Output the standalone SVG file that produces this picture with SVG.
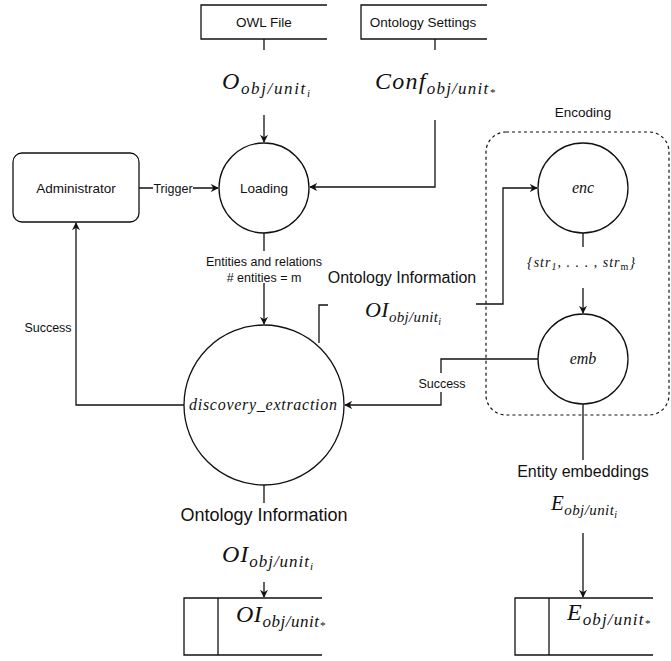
<svg xmlns="http://www.w3.org/2000/svg" width="671" height="661" viewBox="0 0 671 661">
  <style>
    .ln { fill: none; stroke: #111; stroke-width: 1.3; }
    .shape { fill: #fff; stroke: #111; stroke-width: 1.3; }
    .txt { font-family: "Liberation Sans", Arial, sans-serif; fill: #111; text-anchor: middle; }
    .math { font-family: "Liberation Serif", "Times New Roman", serif; font-style: italic; fill: #111; }
    .bg { fill: #fff; stroke: none; }
  </style>
  <defs>
    <marker id="arrow" viewBox="0 0 10 10" refX="9" refY="5" markerWidth="8" markerHeight="8" markerUnits="userSpaceOnUse" orient="auto">
      <path d="M0,0 L10,5 L0,10 L3,5 z" fill="#111"/>
    </marker>
  </defs>
  <rect width="671" height="661" fill="#fff"/>

  <!-- flows between the processes, sources and stores -->
  <g id="connectors">
    <!-- OWL file to loading -->
    <path class="ln" d="M264,39 V50"/>
    <path class="ln" d="M264,115 V142" marker-end="url(#arrow)"/>
    <!-- ontology settings to loading -->
    <path class="ln" d="M435,39 V50"/>
    <path class="ln" d="M435,120 V187 H310" marker-end="url(#arrow)"/>
    <!-- administrator triggers loading -->
    <path class="ln" d="M139,188 H218" marker-end="url(#arrow)"/>
    <rect class="bg" x="153" y="180" width="40" height="16"/>
    <text class="txt" x="173" y="192.5" font-size="12.5">Trigger</text>
    <!-- loading to discovery_extraction -->
    <path class="ln" d="M264,233 V324" marker-end="url(#arrow)"/>
    <rect class="bg" x="205" y="251" width="120" height="32"/>
    <text class="txt" x="264" y="265.5" font-size="12.5">Entities and relations</text>
    <text class="txt" x="264" y="281.5" font-size="12.5"># entities = m</text>
    <!-- discovery_extraction back to administrator -->
    <path class="ln" d="M184,405 H76 V223" marker-end="url(#arrow)"/>
    <text class="txt" x="48" y="331.5" font-size="12.5">Success</text>
    <!-- ontology information to enc -->
    <path class="ln" d="M319,343 V305 H328"/>
    <path class="ln" d="M476,304 H503 V188 H537" marker-end="url(#arrow)"/>
    <text class="txt" x="402" y="283" font-size="16">Ontology Information</text>
    <!-- enc to emb -->
    <path class="ln" d="M583,233 V247"/>
    <path class="ln" d="M583,288 V313" marker-end="url(#arrow)"/>
    <!-- emb success back to discovery_extraction -->
    <path class="ln" d="M538,359 H441 V405 H345" marker-end="url(#arrow)"/>
    <rect class="bg" x="418" y="373" width="46" height="19"/>
    <text class="txt" x="442" y="387.5" font-size="12.5">Success</text>
    <!-- discovery_extraction to ontology information store -->
    <path class="ln" d="M264,485 V503"/>
    <text class="txt" x="264" y="521" font-size="18">Ontology Information</text>
    <path class="ln" d="M264,582 V597" marker-end="url(#arrow)"/>
    <!-- emb to embedding store -->
    <path class="ln" d="M583,404 V460"/>
    <text class="txt" x="583" y="477" font-size="16">Entity embeddings</text>
    <path class="ln" d="M583,533 V597" marker-end="url(#arrow)"/>

    <!-- flow symbols -->
    <text class="math" x="222" y="89" font-size="24" textLength="88" lengthAdjust="spacing">O<tspan font-size="17" dy="5">obj/unit</tspan><tspan font-size="11" dy="3">i</tspan></text>
    <text class="math" x="375" y="89" font-size="24" textLength="120" lengthAdjust="spacing">Conf<tspan font-size="17" dy="5">obj/unit</tspan><tspan font-size="11" dy="2">*</tspan></text>
    <text class="math" x="365" y="317" font-size="22" textLength="76" lengthAdjust="spacing">OI<tspan font-size="15" dy="5">obj/unit</tspan><tspan font-size="10" dy="3">i</tspan></text>
    <text class="math" x="527" y="267" font-size="14" textLength="108" lengthAdjust="spacing">{str<tspan font-size="10" dy="3">1</tspan><tspan dy="-3">, . . . , str</tspan><tspan font-size="10" dy="3" font-style="normal">m</tspan><tspan dy="-3">}</tspan></text>
    <text class="math" x="222" y="562" font-size="24" textLength="91" lengthAdjust="spacing">OI<tspan font-size="17" dy="5">obj/unit</tspan><tspan font-size="11" dy="3">i</tspan></text>
    <text class="math" x="551" y="510" font-size="21" textLength="66" lengthAdjust="spacing">E<tspan font-size="15" dy="5">obj/unit</tspan><tspan font-size="10" dy="3">i</tspan></text>
  </g>

  <!-- external sources -->
  <g id="owl-file">
    <path class="ln" d="M327,5 H201 V39 H327"/>
    <text class="txt" x="264" y="27" font-size="13.5">OWL File</text>
  </g>
  <g id="ontology-settings">
    <path class="ln" d="M487,5 H361 V39 H487"/>
    <text class="txt" x="423" y="27" font-size="13.5">Ontology Settings</text>
  </g>

  <g id="administrator">
    <rect class="shape" x="13" y="153" width="126" height="69" rx="9"/>
    <text class="txt" x="76" y="193" font-size="13.5">Administrator</text>
  </g>

  <g id="loading">
    <circle class="shape" cx="264" cy="188" r="45"/>
    <text class="txt" x="264" y="193" font-size="13.5">Loading</text>
  </g>

  <g id="discovery-extraction">
    <circle class="shape" cx="264" cy="405" r="80"/>
    <text class="math" x="189" y="410" font-size="16" textLength="148" lengthAdjust="spacing">discovery_extraction</text>
  </g>

  <!-- encoding sub-process -->
  <g id="encoding">
    <rect x="486" y="132" width="183" height="283" rx="20" fill="none" stroke="#111" stroke-width="1.2" stroke-dasharray="3,3"/>
    <text class="txt" x="583" y="117" font-size="13.5">Encoding</text>
  </g>
  <g id="enc">
    <circle class="shape" cx="583" cy="188" r="45"/>
    <text class="math" x="583" y="193" font-size="16" text-anchor="middle">enc</text>
  </g>
  <g id="emb">
    <circle class="shape" cx="583" cy="359" r="45"/>
    <text class="math" x="583" y="364" font-size="16" text-anchor="middle">emb</text>
  </g>

  <!-- data stores -->
  <g id="oi-store">
    <path class="ln" d="M322,598 H184 V655 H322"/>
    <path class="ln" d="M218,598 V655"/>
    <text class="math" x="236" y="622" font-size="24" textLength="89" lengthAdjust="spacing">OI<tspan font-size="17" dy="5">obj/unit</tspan><tspan font-size="11" dy="2">*</tspan></text>
  </g>
  <g id="e-store">
    <path class="ln" d="M653,598 H515 V655 H653"/>
    <path class="ln" d="M549,598 V655"/>
    <text class="math" x="567" y="620" font-size="24" textLength="83" lengthAdjust="spacing">E<tspan font-size="17" dy="5">obj/unit</tspan><tspan font-size="11" dy="2">*</tspan></text>
  </g>
</svg>
